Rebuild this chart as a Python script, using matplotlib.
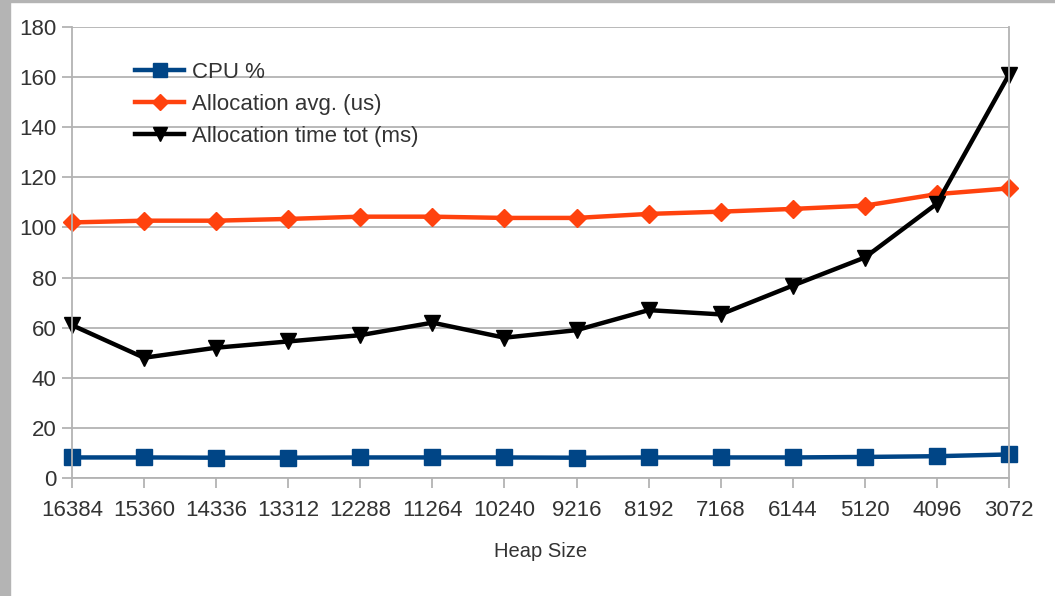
import matplotlib
matplotlib.use("Agg")
import matplotlib.pyplot as plt
from matplotlib.patches import Rectangle

plt.rcParams['font.family'] = ['Liberation Sans', 'DejaVu Sans']

# heap sizes, largest to smallest
heap_sizes = ['16384', '15360', '14336', '13312', '12288', '11264', '10240',
              '9216', '8192', '7168', '6144', '5120', '4096', '3072']
cpu_pct = [8.2, 8.2, 8.1, 8.1, 8.2, 8.2, 8.2, 8.1, 8.2, 8.2, 8.2, 8.4, 8.7, 9.4]
alloc_avg_us = [102.0, 102.7, 102.7, 103.4, 104.3, 104.3, 103.8, 103.8,
                105.4, 106.3, 107.4, 108.7, 113.3, 115.6]
alloc_tot_ms = [61.0, 48.0, 52.0, 54.5, 57.0, 62.0, 56.0, 59.0,
                67.0, 65.3, 76.8, 88.0, 109.5, 161.0]
y_ticks = list(range(0, 181, 20))

grid_col = '#b3b3b3'
text_col = '#333333'

fig = plt.figure(figsize=(10.55, 5.96), dpi=100)
ax = fig.add_axes([72 / 1055, 1 - 478 / 596, 937 / 1055, 451 / 596])

x = list(range(len(heap_sizes)))
ax.plot(x, cpu_pct, color='#004586', lw=3.2, marker='s', ms=11.5, label='CPU %')
ax.plot(x, alloc_avg_us, color='#ff420e', lw=3.2, marker='D', ms=9, label='Allocation avg. (us)')
ax.plot(x, alloc_tot_ms, color='#000000', lw=3.2, marker='v', ms=12, label='Allocation time tot (ms)')

ax.set_xlim(0, len(heap_sizes) - 1)
ax.set_ylim(0, 180)
ax.set_xticks(x)
ax.set_xticklabels(heap_sizes)
ax.set_yticks(y_ticks)
ax.yaxis.grid(True, color=grid_col, lw=1.3)
ax.set_axisbelow(True)
for side in ['left', 'right', 'bottom', 'top']:
    ax.spines[side].set_color(grid_col)
    ax.spines[side].set_linewidth(1.3)
ax.spines['top'].set_visible(False)
ax.tick_params(axis='both', colors=grid_col, labelcolor=text_col, labelsize=16,
               length=7, width=1.3)
ax.tick_params(axis='x', pad=9)
ax.tick_params(axis='y', pad=4)
for ln in ax.get_lines():
    ln.set_clip_on(False)

ax.set_xlabel('Heap Size', fontsize=14.5, color=text_col, labelpad=15)

ax.legend(loc='upper left', bbox_to_anchor=(0.058, 0.943), frameon=False,
          fontsize=16, handlelength=2.2, labelspacing=0.5, handletextpad=0.35,
          labelcolor=text_col, borderaxespad=0, markerscale=0.85)

# grey frame strips at the left and top edge
fig.patches.append(Rectangle((0, 0), 10 / 1055, 1, transform=fig.transFigure,
                             color='#b4b4b4', zorder=10))
fig.patches.append(Rectangle((0, 1 - 2 / 596), 1, 2 / 596, transform=fig.transFigure,
                             color='#b4b4b4', zorder=10))

fig.savefig('out.png', dpi=100)
